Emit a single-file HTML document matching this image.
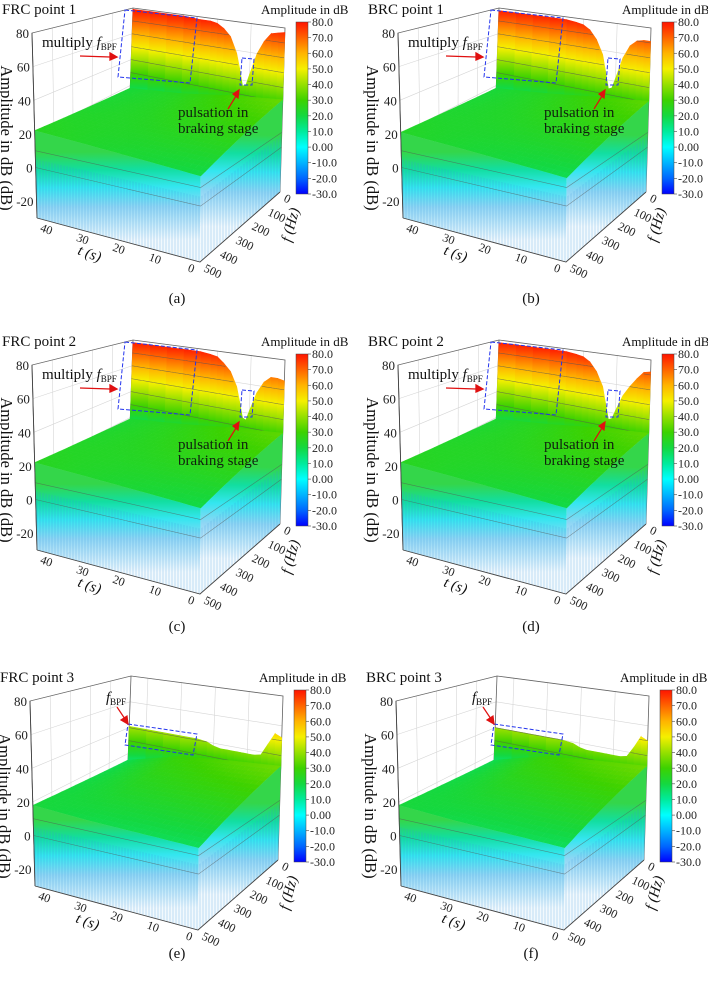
<!DOCTYPE html>
<html><head><meta charset="utf-8">
<style>
html,body{margin:0;padding:0;background:#fff;}
svg{display:block;font-family:"Liberation Serif",serif;}
</style></head>
<body>
<svg id="fig" width="708" height="981" viewBox="0 0 708 981" xmlns="http://www.w3.org/2000/svg">
<defs>
<pattern id="spk" width="3" height="400" patternUnits="userSpaceOnUse"><line x1="1" y1="0" x2="1" y2="400" stroke="#2f8fdc" stroke-width="0.6" opacity="0.45"/></pattern>
<linearGradient id="cbg" x1="0" y1="1" x2="0" y2="0">
<stop offset="0" stop-color="#0000ff"/><stop offset="0.0909" stop-color="#0066ff"/><stop offset="0.1818" stop-color="#00b4ff"/><stop offset="0.2727" stop-color="#00ffff"/><stop offset="0.3636" stop-color="#00eb9c"/><stop offset="0.4545" stop-color="#14d840"/><stop offset="0.5454" stop-color="#3cd200"/><stop offset="0.6363" stop-color="#96e000"/><stop offset="0.7272" stop-color="#f5f000"/><stop offset="0.8181" stop-color="#ffb400"/><stop offset="0.909" stop-color="#ff6400"/><stop offset="1" stop-color="#ff1400"/>
</linearGradient>
</defs>
</svg>
<script>
const tGrid=[0,2,4,6,8,10,11,12,13,14,16,18,20,22,25,30,35,40,45];
const ridgeA=[77,76,75,69,60,45,37,36,48,58,69,74,77,78,78,79,79,79,79];
const ridgeB=[71,71,70,66,57,42,35,34,46,57,67,73,76,77,78,78,78,78,78];
const ridgeC=[66,67,67,63,55,42,35,36,47,57,67,72,76,77,78,78,78,78,78];
const ridgeD=[72,71,66,60,53,42,36,35,46,57,67,73,76,77,78,78,78,78,78];
const ridgeE=[52,54,46,38,37,37,37,37,37,37,37,37,38,40,41,41,41,41,41];
const ridgeF=[50,52,44,37,36,36,36,36,36,36,36,36,37,39,40,40,40,40,40];
const tBase=[0,15,30,45];
const backA=[32,28,22,18], frontA=[16,18,20,22];
const backB=[31,27,22,18], frontB=[15,17,19,21];
const backC=[31,28,23,19], frontC=[16,18,20,22];
const backD=[31,28,23,19], frontD=[16,18,20,22];
const backE=[33,30,26,15], frontE=[14,15,16,18];
const backF=[33,30,26,15], frontF=[14,15,16,18];
const zTicks=[-20,0,20,40,60,80];
const tTicks=[0,10,20,30,40];
const fTicks=[0,100,200,300,400,500];
const cbTicks=[80,70,60,50,40,30,20,10,0,-10,-20,-30];
const cbLabels=['80.0','70.0','60.0','50.0','40.0','30.0','20.0','10.0','0.00','-10.0','-20.0','-30.0'];

const cmap=[[-30,[0,0,255]],[-20,[0,102,255]],[-10,[0,180,255]],[0,[0,255,255]],[10,[0,235,156]],[20,[20,216,64]],[30,[60,210,0]],[40,[150,224,0]],[50,[245,240,0]],[60,[255,180,0]],[70,[255,100,0]],[80,[255,20,0]]];
function col(z){z=Math.max(-30,Math.min(80,z));for(let i=0;i<cmap.length-1;i++){if(z<=cmap[i+1][0]){const a=cmap[i],b=cmap[i+1],k=(z-a[0])/(b[0]-a[0]);const c=a[1].map((v,j)=>Math.round(v+(b[1][j]-v)*k));return 'rgb('+c.join(',')+')';}}return 'rgb(255,20,0)';}
function interp(xs,ys,x){if(x<=xs[0])return ys[0];for(let i=0;i<xs.length-1;i++){if(x<=xs[i+1]){const k=(x-xs[i])/(xs[i+1]-xs[i]);return ys[i]+(ys[i+1]-ys[i])*k;}}return ys[ys.length-1];}
const NS='http://www.w3.org/2000/svg';
const svg=document.getElementById('fig');
const defs=svg.querySelector('defs');
function mk(tag,attrs,parent){const e=document.createElementNS(NS,tag);for(const k in attrs)e.setAttribute(k,attrs[k]);(parent||svg).appendChild(e);return e;}
const F={a:[280,192],b:[128,150],c:[200,262],d:[37,218]};
const T={a:[285,28],b:[133,8],c:[202,57],d:[32,33]};
function bil(C,u,v){return [C.a[0]*(1-u)*(1-v)+C.b[0]*u*(1-v)+C.c[0]*(1-u)*v+C.d[0]*u*v, C.a[1]*(1-u)*(1-v)+C.b[1]*u*(1-v)+C.c[1]*(1-u)*v+C.d[1]*u*v];}
function Pl(t,f,z){const u=t/45,v=f/500,w=(z+30)/110;const p=bil(F,u,v),q=bil(T,u,v);return [p[0]+(q[0]-p[0])*w,p[1]+(q[1]-p[1])*w];}
function pts(arr){return arr.map(p=>p[0].toFixed(1)+','+p[1].toFixed(1)).join(' ');}

const panels=[
 {id:'a',ox:0,oy:0,ridge:ridgeA,back:backA,front:frontA,title:'FRC point 1',kind:1,cbt:261},
 {id:'b',ox:366,oy:0,ridge:ridgeB,back:backB,front:frontB,title:'BRC point 1',kind:1,cbt:256},
 {id:'c',ox:0,oy:332,ridge:ridgeC,back:backC,front:frontC,title:'FRC point 2',kind:1,cbt:261},
 {id:'d',ox:366,oy:332,ridge:ridgeD,back:backD,front:frontD,title:'BRC point 2',kind:1,cbt:256},
 {id:'e',ox:-2,oy:668,ridge:ridgeE,back:backE,front:frontE,title:'FRC point 3',kind:2,cbt:261},
 {id:'f',ox:364,oy:668,ridge:ridgeF,back:backF,front:frontF,title:'BRC point 3',kind:2,cbt:256}
];
const captions=[['(a)',177,303],['(b)',531,303],['(c)',177,631],['(d)',531,631],['(e)',177,958],['(f)',531,958]];

panels.forEach(pn=>{
 const g=mk('g',{transform:'translate('+pn.ox+','+pn.oy+')'});
 
 
 const base=(t,f)=>{const b=interp(tBase,pn.back,t),fr=interp(tBase,pn.front,t);return b+(fr-b)*f/500;};
 const grid=mk('g',{stroke:'#d6d6d6','stroke-width':'0.6',fill:'none'},g);
 
 
 zTicks.forEach(z=>{
  const l1=mk('polyline',{points:pts([Pl(45,500,z),Pl(45,0,z),Pl(0,0,z)])},grid);
  
  
 });
 tTicks.forEach(t=>{
  const l2=mk('polyline',{points:pts([Pl(t,500,-30),Pl(t,0,-30),Pl(t,0,80)])},grid);
  
  
 });
 fTicks.forEach(f=>{
  const l3=mk('polyline',{points:pts([Pl(0,f,-30),Pl(45,f,-30),Pl(45,f,80)])},grid);
  
  
 });
 const box=mk('g',{stroke:'#666','stroke-width':'0.8',fill:'none'},g);
 
 
 [[Pl(45,500,-30),Pl(45,500,80),Pl(45,0,80),Pl(0,0,80),Pl(0,0,-30)],[Pl(45,0,-30),Pl(45,0,80)],[Pl(45,500,-30),Pl(45,0,-30),Pl(0,0,-30)]].forEach(a=>{
  const e=mk('polyline',{points:pts(a)},box);
  
  
 });
 const wall=mk('g',{},g);
 
 
 for(let i=0;i<tGrid.length-1;i++){
  const t1=tGrid[i],t2=tGrid[i+1],tm=(t1+t2)/2;
  const gid='wg'+pn.id+i;
  const p0=Pl(tm,0,-30),p1=Pl(tm,0,80);
  const lg=mk('linearGradient',{id:gid,gradientUnits:'userSpaceOnUse',x1:p0[0],y1:p0[1],x2:p1[0],y2:p1[1]},defs);
  cmap.forEach(s=>{mk('stop',{offset:((s[0]+30)/110).toFixed(3),'stop-color':col(s[0])},lg);});
  const r1=pn.ridge[i],r2=pn.ridge[i+1];
  const poly=mk('polygon',{points:pts([Pl(t1,0,base(t1,0)-2),Pl(t1,0,r1),Pl(t2,0,r2),Pl(t2,0,base(t2,0)-2)]),fill:'url(#'+gid+')',stroke:'url(#'+gid+')','stroke-width':'0.6'},wall);
  
  
 }
 [30,40,50,60,70].forEach(L=>{
  let seg=[];const segs=[];
  for(let t=45;t>=0;t-=0.5){const r=interp(tGrid,pn.ridge,t);if(r>=L&&base(t,0)<L){seg.push(Pl(t,0,L));}else{if(seg.length>1)segs.push(seg);seg=[];}}
  if(seg.length>1)segs.push(seg);
  segs.forEach(s=>{
   const cl=mk('polyline',{points:pts(s),fill:'none',stroke:'#555','stroke-width':'0.6',opacity:'0.7'},wall);
   
   
  });
 });
 const surf=mk('g',{},g);
 
 
 const fs=[];for(let f=0;f<=500;f+=25)fs.push(f);
 const ts=[];for(let t=45;t>=0;t-=1.5)ts.push(Math.max(0,t));
 for(let j=0;j<fs.length-1;j++){for(let i=0;i<ts.length-1;i++){
  const f1=fs[j],f2=fs[j+1],ta=ts[i],tb=ts[i+1];
  const z=(base(ta,f1)+base(tb,f1)+base(ta,f2)+base(tb,f2))/4;
  const c=col(z+3);
  const q=mk('polygon',{points:pts([Pl(ta,f1,base(ta,f1)),Pl(tb,f1,base(tb,f1)),Pl(tb,f2,base(tb,f2)),Pl(ta,f2,base(ta,f2))]),fill:c,stroke:c,'stroke-width':'0.4'},surf);
  
  
 }}
 const faceStops=[[0,'#34d64a'],[0.2,'#12dea0'],[0.4,'#34e6f0'],[0.62,'#90d6f4'],[1,'#f2f9fd']];
 const mkFaceGrad=(gid,a,b)=>{const lg=mk('linearGradient',{id:gid,gradientUnits:'userSpaceOnUse',x1:a[0],y1:a[1],x2:b[0],y2:b[1]},defs);faceStops.forEach(s=>mk('stop',{offset:s[0],'stop-color':s[1]},lg));};
 mkFaceGrad('ff'+pn.id,Pl(22,500,20),Pl(22,500,-30));
 mkFaceGrad('fr'+pn.id,Pl(0,250,25),Pl(0,250,-30));
 const front=[];for(let t=45;t>=0;t-=1.5)front.push(Pl(Math.max(0,t),500,base(Math.max(0,t),500)));
 front.push(Pl(0,500,-30));front.push(Pl(45,500,-30));
 const ff=mk('polygon',{points:pts(front),fill:'url(#ff'+pn.id+')'},g);
 
 
 const right=[];for(let f=500;f>=0;f-=25)right.push(Pl(0,f,base(0,f)));
 right.push(Pl(0,0,-30));right.push(Pl(0,500,-30));
 const fr=mk('polygon',{points:pts(right),fill:'url(#fr'+pn.id+')'},g);
 
 
 const sp1=mk('polygon',{points:pts([Pl(45,500,5),Pl(0,500,5),Pl(0,0,8),Pl(0,0,-30),Pl(0,500,-30),Pl(45,500,-30)]),fill:'url(#spk)'},g);
 
 
 [10,0].forEach(L=>{
  const cl=mk('polyline',{points:pts([Pl(45,500,L),Pl(0,500,L),Pl(0,0,L)]),fill:'none',stroke:'#555','stroke-width':'0.6',opacity:'0.6'},g);
  
  
 });
 const fe=mk('polyline',{points:pts([Pl(45,500,-30),Pl(0,500,-30),Pl(0,0,-30)]),fill:'none',stroke:'#444','stroke-width':'0.9'},g);
 
 
 const le=mk('line',{x1:Pl(45,500,-30)[0],y1:Pl(45,500,-30)[1],x2:Pl(45,500,80)[0],y2:Pl(45,500,80)[1],stroke:'#444','stroke-width':'0.9'},g);
 
 
 zTicks.forEach(z=>{const p=Pl(45,500,z);
  const tx=mk('text',{x:p[0]-3,y:p[1]+5,'text-anchor':'end','font-size':'13',fill:'#222'},g);
  tx.textContent=z;
  
  
 });
 tTicks.forEach(t=>{const p=Pl(t,500,-30);
  const tx=mk('text',{x:p[0]-10,y:p[1]+10,'text-anchor':'middle','font-size':'12',fill:'#222',transform:'rotate(20 '+(p[0]-10)+' '+(p[1]+10)+')'},g);
  tx.textContent=t;
  
  
 });
 fTicks.forEach(f=>{const p=Pl(0,f,-30);
  const tx=mk('text',{x:p[0]+3,y:p[1]+9,'text-anchor':'start','font-size':'12',fill:'#222',transform:'rotate(25 '+(p[0]+3)+' '+(p[1]+9)+')'},g);
  tx.textContent=f;
  
  
 });
 const zt=mk('text',{x:0,y:0,'font-size':'16.5','text-anchor':'middle',fill:'#111',transform:'translate(1,138) rotate(90)'},g);
 zt.textContent='Amplitude in dB (dB)';
 
 
 const tt=mk('text',{x:0,y:0,'font-size':'15','text-anchor':'middle',fill:'#111','font-style':'italic',transform:'translate(88,258) rotate(20)'},g);
 tt.textContent='t (s)';
 
 
 const ft=mk('text',{x:0,y:0,'font-size':'15','text-anchor':'middle',fill:'#111','font-style':'italic',transform:'translate(295,226) rotate(-75)'},g);
 ft.textContent='f (Hz)';
 
 
 const ti=mk('text',{x:2,y:14,'font-size':'15',fill:'#111'},g);
 ti.textContent=pn.title;
 
 
 const ct=mk('text',{x:pn.cbt,y:14,'font-size':'13',fill:'#111'},g);
 ct.textContent='Amplitude in dB';
 
 
 const cb=mk('rect',{x:296,y:22,width:12,height:172,fill:'url(#cbg)',stroke:'#444','stroke-width':'0.5'},g);
 
 
 cbTicks.forEach((v,i)=>{const y=194-(v+30)/110*172;
  const tk=mk('line',{x1:308,y1:y,x2:311,y2:y,stroke:'#444','stroke-width':'0.6'},g);
  
  
  const tx=mk('text',{x:312,y:y+4,'font-size':'12',fill:'#222'},g);
  tx.textContent=cbLabels[i];
  
  
 });
 if(pn.kind===1){
  const r1=mk('polygon',{points:'125,10 197,18 190,83 118,77',fill:'none',stroke:'#2233ee','stroke-width':'1','stroke-dasharray':'4,2'},g);
  
  
  const r2=mk('polygon',{points:'242,58 254,59 252,85 240,85',fill:'none',stroke:'#2233ee','stroke-width':'1','stroke-dasharray':'4,2'},g);
  
  
  const a1=mk('path',{d:'M80,56 L110,57 M110,53 L117,57 L110,60 Z',stroke:'#e01010',fill:'#e01010','stroke-width':'1.3'},g);
  
  
  const a2=mk('path',{d:'M228,109 L236,96 M233,94 L239,90 L238,98 Z',stroke:'#e01010',fill:'#e01010','stroke-width':'1.2'},g);
  
  
  const mt=mk('text',{x:42,y:47,'font-size':'15',fill:'#111'},g);
  mt.innerHTML='multiply <tspan font-style="italic">f</tspan><tspan font-size="9" dy="3">BPF</tspan>';
  
  
  const p1=mk('text',{x:178,y:117,'font-size':'15',fill:'#10200f'},g);
  p1.textContent='pulsation in';
  
  
  const p2=mk('text',{x:178,y:133,'font-size':'15',fill:'#10200f'},g);
  p2.textContent='braking stage';
  
  
 } else {
  const r1=mk('polygon',{points:'130,56 199,66 195,87 127,77',fill:'none',stroke:'#2233ee','stroke-width':'1','stroke-dasharray':'4,2'},g);
  
  
  const a1=mk('path',{d:'M119,39 L127,51 M123,52 L130,56 L129,48 Z',stroke:'#e01010',fill:'#e01010','stroke-width':'1.2'},g);
  
  
  const mt=mk('text',{x:108,y:34,'font-size':'15',fill:'#111'},g);
  mt.innerHTML='<tspan font-style="italic">f</tspan><tspan font-size="9" dy="3">BPF</tspan>';
  
  
 }
});
captions.forEach(c=>{
 const tx=mk('text',{x:c[1],y:c[2],'font-size':'15','text-anchor':'middle',fill:'#111'});
 tx.textContent=c[0];
 
 
});
</script>
</body></html>
